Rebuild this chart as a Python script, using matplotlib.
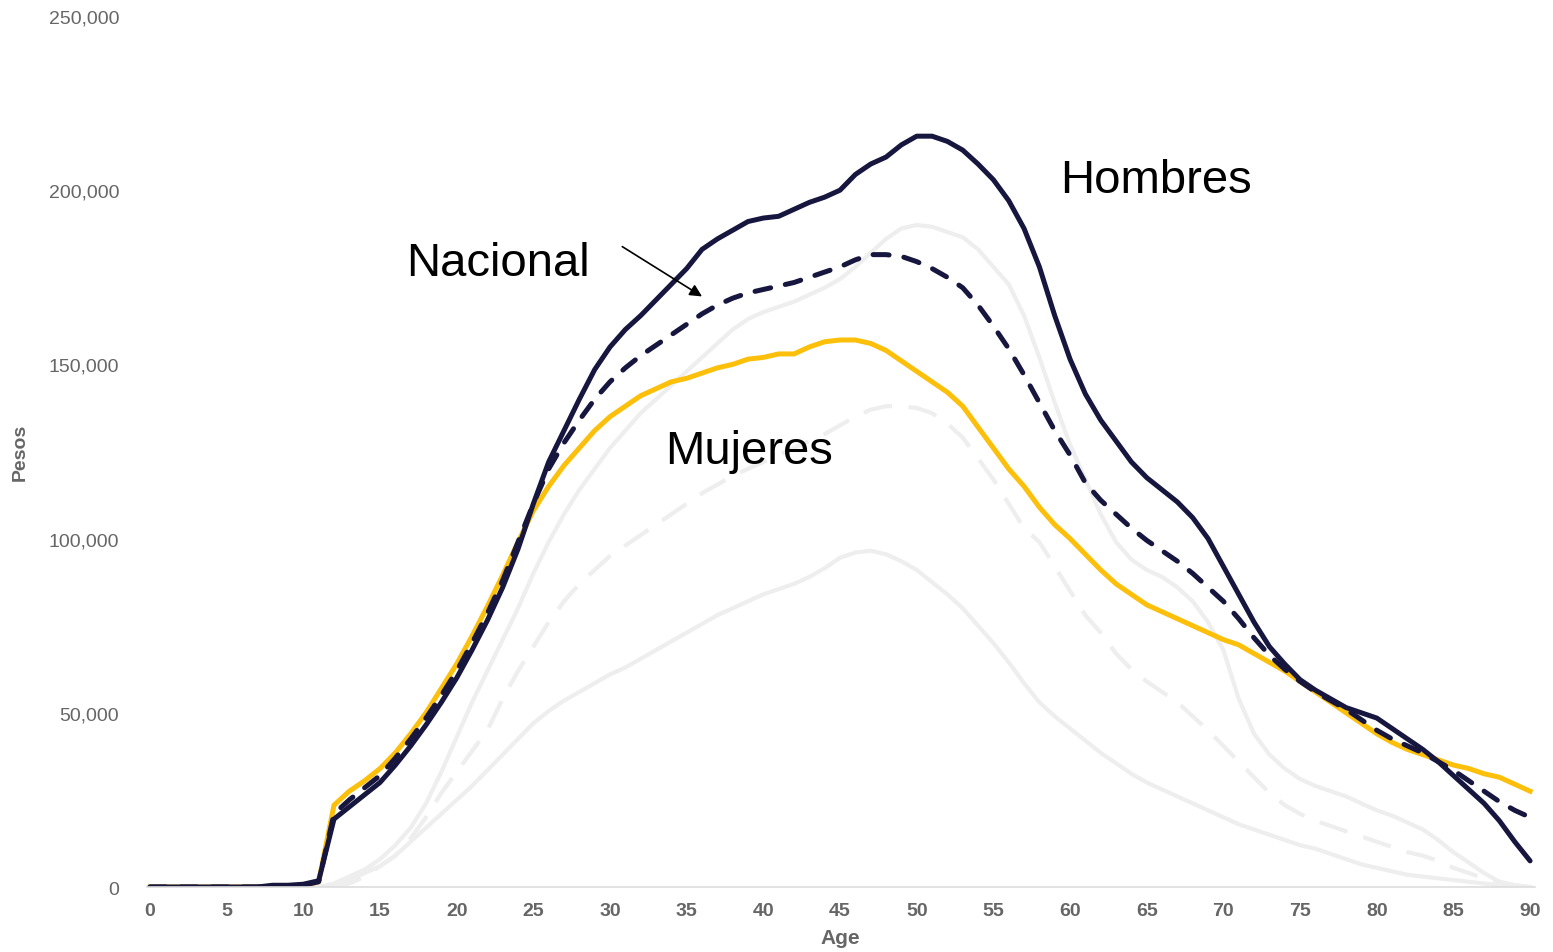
import numpy as np
import matplotlib
matplotlib.use("Agg")
import matplotlib.pyplot as plt
from matplotlib.ticker import FuncFormatter

plt.rcParams['font.family'] = ['Liberation Sans', 'DejaVu Sans']

ages = list(range(0, 91))

# values in thousands of pesos, one per age 0..90
hombres = [0, 0, 0, 0, 0, 0, 0, 0, 0.5, 0.5, 0.8, 1.8,
           19.5, 23, 26.5, 30, 35, 40.5, 46.5, 53, 60, 68, 76.5, 86, 97,
           110, 122, 131, 140, 148.5, 155, 160, 164, 168.5, 173, 177.5,
           183, 186, 188.5, 191, 192, 192.5, 194.5, 196.5, 198, 200,
           204.5, 207.5, 209.5, 213, 215.5, 215.5, 214, 211.5, 207.5, 203,
           197, 189, 178, 164, 151.5, 141.5, 134, 128, 122, 117.5, 114, 110.5,
           106, 100, 92, 84, 76, 69, 64, 59.5, 56.5, 54, 51.5, 50, 48.5,
           45.5, 42.5, 39.5, 36, 32, 28, 24, 19, 13, 7.5]

nacional = [0, 0, 0, 0, 0, 0, 0, 0, 0.3, 0.3, 0.5, 1.5,
            21, 25, 28.5, 32, 37, 42.5, 48.5, 55, 62, 70, 78.5, 88, 99,
            110, 120, 127.5, 134, 140, 145, 149, 152.5, 155.5, 158.5, 161.5,
            164.5, 167, 169, 170.5, 171.5, 172.5, 173.5, 175, 176.5, 178,
            180, 181.5, 181.5, 181, 179.5, 177.5, 175, 172, 167, 161,
            154.5, 147, 139, 131, 124, 116, 111, 107, 103, 99.5, 96.5,
            93.5, 90, 86, 82, 77, 71.5, 66.5, 62.5, 59, 56, 53.5, 51, 48,
            45, 42.5, 40.5, 38.5, 36, 33.5, 30.5, 27.5, 24.5, 22, 20]

mujeres = [0, 0, 0, 0, 0, 0, 0, 0, 0.3, 0.3, 0.5, 1.5,
           23.5, 27.5, 30.5, 34, 38.5, 44, 50, 57, 64, 72, 80.5, 89.5, 99,
           108, 115, 121, 126, 131, 135, 138, 141, 143, 145, 146,
           147.5, 149, 150, 151.5, 152, 153, 153, 155, 156.5, 157,
           157, 156, 154, 151, 148, 145, 142, 138, 132, 126,
           120, 115, 109, 104, 100, 95.5, 91, 87, 84, 81, 79,
           77, 75, 73, 71, 69.5, 67, 64.5, 62, 59, 56, 53, 50, 47,
           44, 41.5, 39.5, 38, 36.5, 35, 34, 32.5, 31.5, 29.5, 27.5]

# faded comparison series (upper solid, dashed, lower solid)
ref_alto = [0] * 12 + [1, 3, 5, 8, 12, 17, 24, 33, 43, 53, 62, 71, 80,
            90, 99, 107, 114, 120, 126, 131, 136, 140, 144, 148,
            152, 156, 160, 163, 165, 166.5, 168, 170, 172, 174.5,
            178, 182, 186, 189, 190, 189.5, 188, 186.5, 183, 178,
            173, 164, 152, 139, 127, 117, 107, 99, 94, 91, 89,
            86, 82, 76, 68, 54, 44, 38, 34, 31, 29, 27.5, 26, 24, 22,
            20.5, 18.5, 16.5, 13.5, 10, 7, 4, 1.5, 0.5, 0]

ref_medio = [0] * 13 + [1, 3, 6, 9, 14, 20, 27, 33, 39, 45, 54, 62,
             69, 76, 82, 87, 91, 95, 98, 101, 104, 107, 110,
             113, 115.5, 118, 120, 122, 124, 126, 128, 130, 132.5,
             135, 137, 138, 138, 137.5, 136, 133, 129, 123, 117,
             110, 103, 99, 92, 85, 78, 73, 67, 62.5, 59, 56,
             53, 49, 45, 40.5, 36, 31.5, 27, 23.5, 21, 19, 17.5, 16, 14.5, 13,
             11.5, 10, 9, 7.5, 5.5, 4, 2.5, 1.5, 0.5, 0]

ref_bajo = [0] * 12 + [0.5, 2, 4, 6, 9, 13, 17, 21, 25, 29, 33.5, 38, 42.5,
            47, 50.5, 53.5, 56, 58.5, 61, 63, 65.5, 68, 70.5, 73,
            75.5, 78, 80, 82, 84, 85.5, 87, 89, 91.5, 94.5,
            96, 96.5, 95.5, 93.5, 91, 87.5, 84, 80, 75, 70,
            64.5, 58.5, 53, 49, 45.5, 42, 38.5, 35.5, 32.5, 30, 28,
            26, 24, 22, 20, 18, 16.5, 15, 13.5, 12, 11, 9.5, 8, 6.5, 5.5,
            4.5, 3.5, 3, 2.5, 2, 1.5, 1, 0.5, 0.2, 0]

x_ticks = list(range(0, 91, 5))
y_ticks = [0, 50000, 100000, 150000, 200000, 250000]

navy = '#16163f'
gold = '#fcbf0a'
faint = '#eeeeee'
tick_gray = '#666666'

fig = plt.figure(figsize=(15.53, 9.53), dpi=100)
ax = fig.add_axes([0.0946, 0.0682, 0.8936, 0.914])

k = 1000.0
ax.plot(ages, np.array(ref_bajo) * k, color=faint, lw=3.0, solid_joinstyle='round')
ax.plot(ages, np.array(ref_medio) * k, color=faint, lw=3.0, dashes=(7, 4))
ax.plot(ages, np.array(ref_alto) * k, color=faint, lw=3.0, solid_joinstyle='round')

ax.plot(ages, np.array(mujeres) * k, color=gold, lw=3.6, solid_joinstyle='round')
ax.plot(ages, np.array(nacional) * k, color=navy, lw=3.6, dashes=(3.2, 3.0),
        dash_capstyle='round')
ax.plot(ages, np.array(hombres) * k, color=navy, lw=3.6, solid_joinstyle='round',
        solid_capstyle='round')

ax.set_xlim(-0.2, 90.3)
ax.set_ylim(0, 250000)
ax.set_xticks(x_ticks)
ax.set_yticks(y_ticks)
ax.yaxis.set_major_formatter(FuncFormatter(lambda v, p: f"{v:,.0f}"))

for s in ['top', 'right', 'left']:
    ax.spines[s].set_visible(False)
ax.spines['bottom'].set_color('#dddddd')
ax.spines['bottom'].set_linewidth(1.2)

ax.tick_params(axis='both', length=0, colors=tick_gray, labelsize=14)
ax.tick_params(axis='y', pad=20)
ax.tick_params(axis='x', pad=11)
for lbl in ax.get_xticklabels():
    lbl.set_fontweight('bold')

ax.set_xlabel('Age', fontsize=15, fontweight='bold', color=tick_gray, labelpad=6)
ax.set_ylabel('Pesos', fontsize=14, fontweight='bold', color=tick_gray, labelpad=14)

ax.text(65.6, 203000, 'Hombres', fontsize=34, color='black', ha='center', va='center')
ax.text(22.7, 179000, 'Nacional', fontsize=34, color='black', ha='center', va='center')
ax.text(39.1, 125000, 'Mujeres', fontsize=34, color='black', ha='center', va='center')

ax.annotate('', xy=(36.0, 169500), xytext=(30.8, 183800),
            arrowprops=dict(arrowstyle='-|>', color='black', lw=1.2,
                            mutation_scale=18, shrinkA=0, shrinkB=0))

fig.savefig('out.png', dpi=100)
